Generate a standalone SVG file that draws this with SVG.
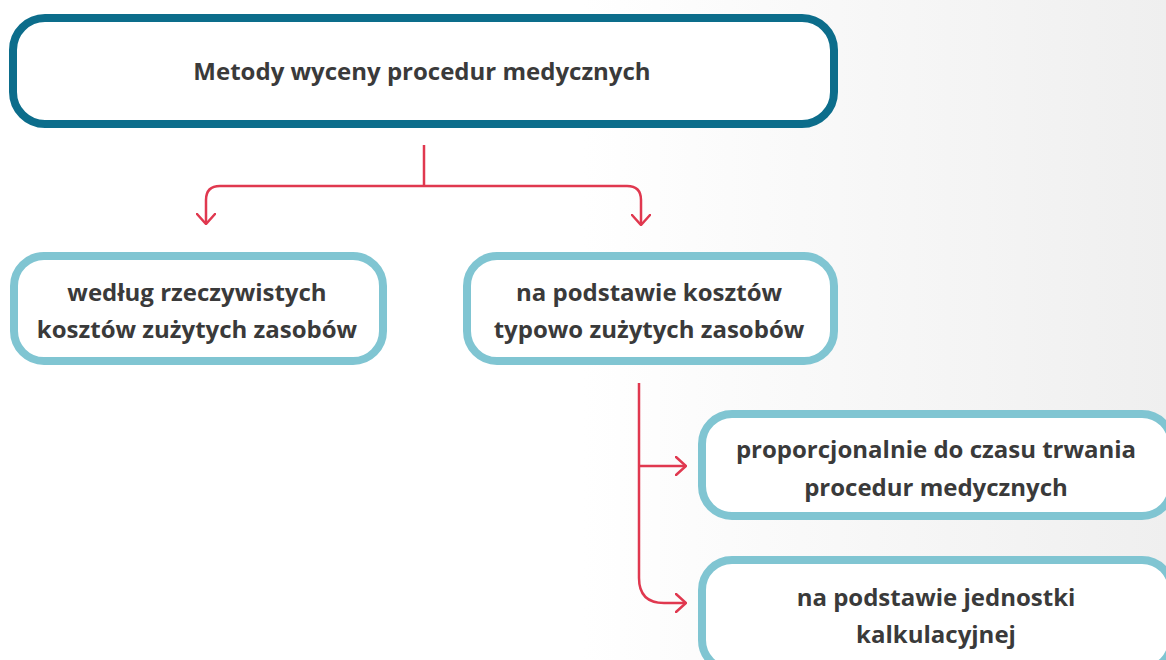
<svg xmlns="http://www.w3.org/2000/svg" width="1166" height="660" viewBox="0 0 1166 660">
  <defs>
    <linearGradient id="bg" x1="0" y1="0" x2="1" y2="0">
      <stop offset="0" stop-color="#ffffff"/>
      <stop offset="0.5" stop-color="#ffffff"/>
      <stop offset="1" stop-color="#efefef"/>
    </linearGradient>
    <marker id="chev" viewBox="0 0 12 20" refX="11" refY="10" markerWidth="12" markerHeight="20" markerUnits="userSpaceOnUse" orient="auto">
      <path d="M1 1 L11 10 L1 19" fill="none" stroke="#e0384f" stroke-width="2.5" stroke-linecap="round" stroke-linejoin="miter"/>
    </marker>
    <style>
      .main { fill: #ffffff; stroke: #0c6d8b; stroke-width: 8; }
      .sub { fill: #ffffff; stroke: #80c5d2; stroke-width: 8; }
      .lbl { font-family: "Open Sans", "Liberation Sans", sans-serif; font-weight: 700; fill: #3a3a3a; text-anchor: middle; font-size: 24px; }
      .link { fill: none; stroke: #e0384f; stroke-width: 2.5; }
    </style>
  </defs>

  <rect x="0" y="0" width="1166" height="660" fill="url(#bg)"/>

  <g id="connectors">
    <path class="link" d="M424 145 V186"/>
    <path class="link" d="M424 186 H220 Q206 186 206 200 V224" marker-end="url(#chev)"/>
    <path class="link" d="M424 186 H627 Q641 186 641 200 V225" marker-end="url(#chev)"/>
    <path class="link" d="M639 383 V578 Q639 603 664 603 H686" marker-end="url(#chev)"/>
    <path class="link" d="M639 466 H686" marker-end="url(#chev)"/>
  </g>

  <g id="node-root">
    <rect class="main" x="13" y="18" width="821" height="106" rx="32"/>
    <text class="lbl" x="422" y="80">Metody wyceny procedur medycznych</text>
  </g>

  <g id="node-actual">
    <rect class="sub" x="14" y="256" width="369" height="105" rx="30"/>
    <text class="lbl" x="197" y="301">według rzeczywistych</text>
    <text class="lbl" x="197" y="338">kosztów zużytych zasobów</text>
  </g>

  <g id="node-typical">
    <rect class="sub" x="467" y="256" width="367" height="105" rx="30"/>
    <text class="lbl" x="649" y="301">na podstawie kosztów</text>
    <text class="lbl" x="649" y="338">typowo zużytych zasobów</text>
  </g>

  <g id="node-time">
    <rect class="sub" x="702" y="414" width="470" height="102" rx="30"/>
    <text class="lbl" x="936" y="458">proporcjonalnie do czasu trwania</text>
    <text class="lbl" x="936" y="496">procedur medycznych</text>
  </g>

  <g id="node-unit">
    <rect class="sub" x="702" y="560" width="470" height="110" rx="30"/>
    <text class="lbl" x="936" y="606">na podstawie jednostki</text>
    <text class="lbl" x="936" y="643">kalkulacyjnej</text>
  </g>
</svg>
